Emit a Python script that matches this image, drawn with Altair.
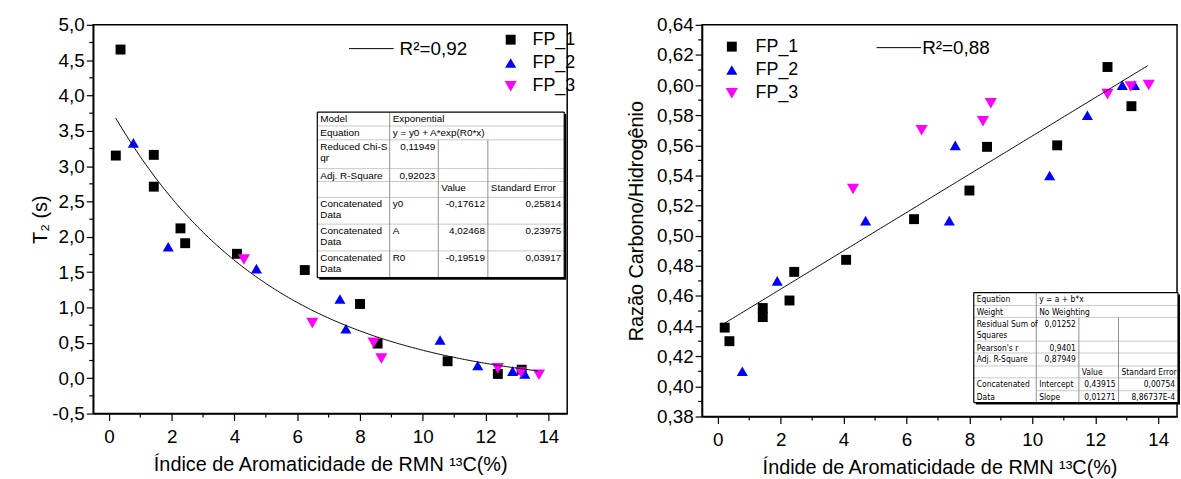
import altair as alt
import numpy as np
import pandas as pd

# ---------------- data ----------------
SERIES = ["FP_1", "FP_2", "FP_3"]
COLORS = ["#000000", "#0000FF", "#FF00FF"]
SHAPES = ["square", "triangle-up", "triangle-down"]

fp1_x = [0.22, 0.37, 1.43, 1.43, 2.28, 2.43, 4.08, 6.24, 8.00, 8.56, 10.79, 12.39, 13.15]
fp1_t2 = [3.15, 4.65, 3.16, 2.71, 2.12, 1.91, 1.76, 1.53, 1.05, 0.49, 0.24, 0.06, 0.12]
fp1_ch = [0.439, 0.430, 0.452, 0.446, 0.457, 0.476, 0.484, 0.511, 0.530, 0.559, 0.560, 0.612, 0.586]

fp2_x = [0.78, 1.89, 4.70, 7.36, 7.55, 10.55, 11.75, 12.86, 13.25]
fp2_t2 = [3.33, 1.86, 1.55, 1.12, 0.70, 0.54, 0.18, 0.10, 0.06]
fp2_ch = [0.410, 0.470, 0.510, 0.510, 0.560, 0.540, 0.580, 0.600, 0.600]

fp3_x = [4.30, 6.48, 8.43, 8.68, 12.39, 13.13, 13.70]
fp3_t2 = [1.68, 0.78, 0.50, 0.28, 0.14, 0.08, 0.05]
fp3_ch = [0.531, 0.570, 0.576, 0.588, 0.594, 0.599, 0.600]

# fit parameters printed in the figure's tables
exp_y0, exp_A, exp_R0 = -0.17612, 4.02468, -0.19519
lin_a, lin_b = 0.43915, 0.01271
fit_x_start, fit_x_end = 0.22, 13.70

r2_left = "R\u00b2=0,92"
r2_right = "R\u00b2=0,88"

x_major = [0, 2, 4, 6, 8, 10, 12, 14]
x_minor = [1, 3, 5, 7, 9, 11, 13]
left_y_major = [-0.5, 0.0, 0.5, 1.0, 1.5, 2.0, 2.5, 3.0, 3.5, 4.0, 4.5, 5.0]
left_y_minor = [-0.25, 0.25, 0.75, 1.25, 1.75, 2.25, 2.75, 3.25, 3.75, 4.25, 4.75]
right_y_major = [0.38, 0.40, 0.42, 0.44, 0.46, 0.48, 0.50, 0.52, 0.54, 0.56, 0.58, 0.60, 0.62, 0.64]
right_y_minor = [0.39, 0.41, 0.43, 0.45, 0.47, 0.49, 0.51, 0.53, 0.55, 0.57, 0.59, 0.61, 0.63]

left_table_cells = [
    (0, 0, ["Model"], "left"), (0, 1, ["Exponential"], "left"),
    (1, 0, ["Equation"], "left"), (1, 1, ["y = y0 + A*exp(R0*x)"], "left"),
    (2, 0, ["Reduced Chi-S", "qr"], "left"), (2, 1, ["0,11949"], "right"),
    (3, 0, ["Adj. R-Square"], "left"), (3, 1, ["0,92023"], "right"),
    (4, 2, ["Value"], "left"), (4, 3, ["Standard Error"], "left"),
    (5, 0, ["Concatenated", "Data"], "left"), (5, 1, ["y0"], "left"),
    (5, 2, ["-0,17612"], "right"), (5, 3, ["0,25814"], "right"),
    (6, 0, ["Concatenated", "Data"], "left"), (6, 1, ["A"], "left"),
    (6, 2, ["4,02468"], "right"), (6, 3, ["0,23975"], "right"),
    (7, 0, ["Concatenated", "Data"], "left"), (7, 1, ["R0"], "left"),
    (7, 2, ["-0,19519"], "right"), (7, 3, ["0,03917"], "right"),
]
right_table_cells = [
    (0, 0, ["Equation"], "left"), (0, 1, ["y = a + b*x"], "left"),
    (1, 0, ["Weight"], "left"), (1, 1, ["No Weighting"], "left"),
    (2, 0, ["Residual Sum of", "Squares"], "left"), (2, 1, ["0,01252"], "right"),
    (3, 0, ["Pearson's r"], "left"), (3, 1, ["0,9401"], "right"),
    (4, 0, ["Adj. R-Square"], "left"), (4, 1, ["0,87949"], "right"),
    (5, 2, ["Value"], "left"), (5, 3, ["Standard Error"], "left"),
    (6, 0, ["Concatenated"], "left"), (7, 0, ["Data"], "left"),
    (6, 1, ["Intercept"], "left"), (6, 2, ["0,43915"], "right"), (6, 3, ["0,00754"], "right"),
    (7, 1, ["Slope"], "left"), (7, 2, ["0,01271"], "right"), (7, 3, ["8,86737E-4"], "right"),
]

# ---------------- layout / style ----------------
FONT = "Liberation Sans"
X_DOMAIN = [-0.5, 14.6]
LW, LH = 478, 392
RW, RH = 479, 395

LEFT_TABLE = dict(cols=[226, 299, 348, 398, 475], rows=[88, 102, 116, 145, 158, 174, 201, 228, 255],
                  font=FONT, size=10, first=7, gap=11, pad=3, full_rows=2, split=None)
RIGHT_TABLE = dict(cols=[274, 337, 380, 420, 480], rows=[270, 283, 295, 319, 331, 344, 356, 369, 381],
                   font="Liberation Sans Narrow, DejaVu Sans Condensed, Liberation Sans", size=8.5,
                   first=6.5, gap=11, pad=3, full_rows=2, split=7)


def make_df(col):
    frames = []
    for name, xs, ys in zip(SERIES, [fp1_x, fp2_x, fp3_x], col):
        frames.append(pd.DataFrame({"x": xs, "y": ys, "series": name}))
    return pd.concat(frames, ignore_index=True)


left_df = make_df([fp1_t2, fp2_t2, fp3_t2])
right_df = make_df([fp1_ch, fp2_ch, fp3_ch])


def axis(values, dec, title, title_pad, label_pad):
    lab = f"replace(replace(format(datum.value, '.{dec}f'), '.', ','), '\u2212', '-')"
    return alt.Axis(values=values, tickCount=60, labelExpr=lab, title=title, grid=False, tickSize=7,
                    tickColor="black", domainColor="black", tickWidth=1.2, domainWidth=1.5,
                    labelFont=FONT, labelFontSize=19, labelColor="black", labelPadding=label_pad,
                    titleFont=FONT, titleFontSize=20, titleFontWeight="normal", titleColor="black",
                    titlePadding=title_pad, labelFlush=False, labelOverlap=False)


def points(df, y_title, y_dom, y_vals, y_dec, x_title, legend_xy, y_pad, label_offset):
    leg = alt.Legend(orient="none", legendX=legend_xy[0], legendY=legend_xy[1], title=None,
                     labelFont=FONT, labelFontSize=18, labelColor="black", symbolSize=80,
                     rowPadding=5.5, labelOffset=label_offset, padding=0, symbolStrokeWidth=0)
    return alt.Chart(df).mark_point(filled=True, opacity=1).encode(
        x=alt.X("x:Q", scale=alt.Scale(domain=X_DOMAIN, nice=False, zero=False),
                axis=axis(x_major, 0, x_title, 8, 7)),
        y=alt.Y("y:Q", scale=alt.Scale(domain=y_dom, nice=False, zero=False),
                axis=axis(y_vals, y_dec, y_title, y_pad, 2)),
        color=alt.Color("series:N", scale=alt.Scale(domain=SERIES, range=COLORS), legend=leg),
        shape=alt.Shape("series:N", scale=alt.Scale(domain=SERIES, range=SHAPES), legend=leg),
        size=alt.Size("series:O", scale=alt.Scale(domain=SERIES, range=[100, 150, 150]), legend=None),
    )


def minor_ticks(y_minor, h):
    xt = alt.Chart(pd.DataFrame({"v": x_minor})).mark_rule(color="black", strokeWidth=1.2).encode(
        x=alt.X("v:Q"), y=alt.value(h), y2=alt.value(h + 4))
    yt = alt.Chart(pd.DataFrame({"v": y_minor})).mark_rule(color="black", strokeWidth=1.2).encode(
        y=alt.Y("v:Q"), x=alt.value(-4), x2=alt.value(0))
    return [xt, yt]


def table_layers(cells, t):
    cols, rows = t["cols"], t["rows"]
    x0, x1, y0, y1 = cols[0], cols[-1], rows[0], rows[-1]
    bg = pd.DataFrame({"x1": [x0 + 2, x0], "x2": [x1 + 2, x1], "y1": [y0 + 2, y0], "y2": [y1 + 2, y1],
                       "c": ["#000000", "#ffffff"]})
    rect = alt.Chart(bg).mark_rect().encode(
        x=alt.X("x1:Q", scale=None, axis=None), x2="x2:Q",
        y=alt.Y("y1:Q", scale=None, axis=None), y2="y2:Q",
        color=alt.Color("c:N", scale=None))
    segs = []
    for i, r in enumerate(rows[1:-1], start=1):
        xs = cols[1] if (t["split"] is not None and i == t["split"]) else x0
        segs.append((xs, x1, r, r, "#c8c8c8", 1))
    segs.append((cols[1], cols[1], y0, y1, "#909090", 1))
    for c in cols[2:-1]:
        segs.append((c, c, rows[t["full_rows"]], y1, "#909090", 1))
    segs += [(x0, x1, y0, y0, "#000000", 1.2), (x0, x1, y1, y1, "#000000", 1.2),
             (x0, x0, y0, y1, "#000000", 1.2), (x1, x1, y0, y1, "#000000", 1.2)]
    sdf = pd.DataFrame(segs, columns=["x1", "x2", "y1", "y2", "c", "w"])
    rules = alt.Chart(sdf).mark_rule().encode(
        x=alt.X("x1:Q", scale=None, axis=None), x2="x2:Q",
        y=alt.Y("y1:Q", scale=None, axis=None), y2="y2:Q",
        color=alt.Color("c:N", scale=None), strokeWidth=alt.StrokeWidth("w:Q", scale=None))
    recs = []
    for r, c, lines, al in cells:
        for i, ln in enumerate(lines):
            px = cols[c] + t["pad"] if al == "left" else cols[c + 1] - t["pad"]
            recs.append((px, rows[r] + t["first"] + i * t["gap"], ln, al))
    tdf = pd.DataFrame(recs, columns=["px", "py", "text", "al"])
    texts = []
    for al in ["left", "right"]:
        texts.append(alt.Chart(tdf[tdf.al == al]).mark_text(
            align=al, baseline="middle", font=t["font"], fontSize=t["size"], color="black").encode(
            x=alt.X("px:Q", scale=None, axis=None), y=alt.Y("py:Q", scale=None, axis=None),
            text="text:N"))
    return [rect, rules] + texts


def r2_layers(x1, x2, y, text, gap):
    ln = alt.Chart(pd.DataFrame({"a": [x1], "b": [x2], "y": [y]})).mark_rule(
        color="black", strokeWidth=1).encode(
        x=alt.X("a:Q", scale=None, axis=None), x2="b:Q", y=alt.Y("y:Q", scale=None, axis=None))
    tx = alt.Chart(pd.DataFrame({"a": [x2 + gap], "y": [y], "t": [text]})).mark_text(
        align="left", baseline="middle", font=FONT, fontSize=19, color="black").encode(
        x=alt.X("a:Q", scale=None, axis=None), y=alt.Y("y:Q", scale=None, axis=None), text="t:N")
    return [ln, tx]


left_fit = alt.Chart(alt.sequence(fit_x_start, fit_x_end + 0.01, 0.05, as_="x")).transform_calculate(
    y=f"{exp_y0} + {exp_A}*exp({exp_R0}*datum.x)").mark_line(color="black", strokeWidth=1).encode(
    x="x:Q", y="y:Q")
right_fit = alt.Chart(alt.sequence(fit_x_start, fit_x_end + 0.01, 0.05, as_="x")).transform_calculate(
    y=f"{lin_a} + {lin_b}*datum.x").mark_line(color="black", strokeWidth=1).encode(
    x="x:Q", y="y:Q")

left_pts = points(left_df, "T\u2082 (s)", [-0.5, 5.0], left_y_major, 1,
                  "\u00cdndice de Aromaticidade de RMN \u00b9\u00b3C(%)", (412, 6), 1, 13)
right_pts = points(right_df, "Raz\u00e3o Carbono/Hidrog\u00eanio", [0.38, 0.64], right_y_major, 2,
                   "\u00cdndide de Aromaticidade de RMN \u00b9\u00b3C(%)", (21, 13), 10, 15)

left = alt.layer(left_pts, left_fit, *minor_ticks(left_y_minor, LH),
                 *r2_layers(258, 303, 24, r2_left, 6),
                 *table_layers(left_table_cells, LEFT_TABLE)).properties(width=LW, height=LH)
right = alt.layer(right_pts, right_fit, *minor_ticks(right_y_minor, RH),
                  *r2_layers(176, 221, 23, r2_right, 1),
                  *table_layers(right_table_cells, RIGHT_TABLE)).properties(width=RW, height=RH)

chart = alt.hconcat(left, right, spacing=49).resolve_scale(
    color="independent", shape="independent", size="independent").resolve_legend(
    color="independent", shape="independent").properties(
    padding={"left": 30, "top": 13, "right": 0, "bottom": 0}, background="white").configure_view(
    stroke="black", strokeWidth=1.5)

chart.save("out.html", embed_options={"renderer": "svg", "actions": False})
